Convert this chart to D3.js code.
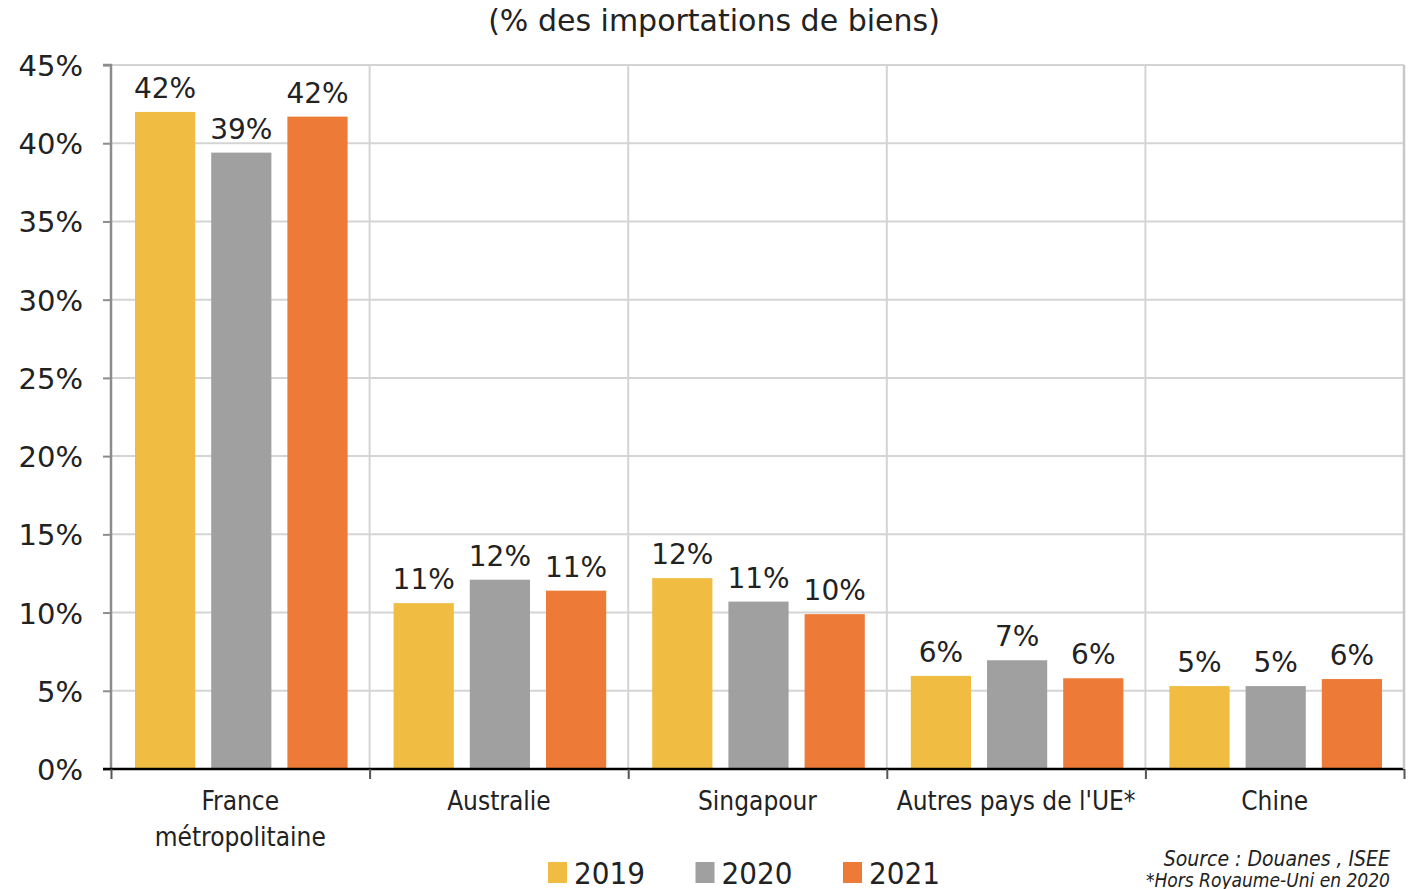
<!DOCTYPE html>
<html lang="fr">
  <head>
    <meta charset="utf-8">
    <title>Importations de biens par origine</title>
    <script src="https://d3js.org/d3.v7.js"></script>
    <style>
    body {margin: 0; background: white;}
    svg {display: block;}
    .tick-label, .val-label {font-family: "DejaVu Sans", Verdana, sans-serif; fill: #222;}
    .cat-label, .legend-label {font-family: "DejaVu Sans Condensed", "DejaVu Sans", sans-serif; fill: #222;}
    .source {font-family: "DejaVu Sans Condensed", "DejaVu Sans", sans-serif; font-style: italic; fill: #222;}
    </style>
  </head>
  <body>
  <script>

  // data
  var categories = ["France métropolitaine", "Australie", "Singapour", "Autres pays de l'UE*", "Chine"];
  var years = ["2019", "2020", "2021"];
  var values2019 = [42.0, 10.6, 12.2, 5.95, 5.3];
  var values2020 = [39.4, 12.1, 10.7, 6.95, 5.3];
  var values2021 = [41.7, 11.4, 9.9, 5.8, 5.75];
  var labels2019 = ["42%", "11%", "12%", "6%", "5%"];
  var labels2020 = ["39%", "12%", "11%", "7%", "5%"];
  var labels2021 = ["42%", "11%", "10%", "6%", "6%"];
  var yTicks = [0, 5, 10, 15, 20, 25, 30, 35, 40, 45];
  var colors = ["#F0BC42", "#A0A0A0", "#EE7A38"];

  var w = 1411;
  var h = 889;
  var margin = {top: 65, right: 7, bottom: 120, left: 111};
  var innerWidth = w - margin.left - margin.right;
  var innerHeight = h - margin.top - margin.bottom;

  var series = [values2019, values2020, values2021];
  var seriesLabels = [labels2019, labels2020, labels2021];

  var rows = [];
  categories.forEach(function(c, i) {
    years.forEach(function(y, j) {
      rows.push({cat: c, year: y, idx: j, value: series[j][i], label: seriesLabels[j][i]});
    });
  });

  var svg = d3.select("body")
      .append("svg")
      .attr("width", w)
      .attr("height", h);

  var g = svg.append("g")
      .attr("transform", `translate(${margin.left}, ${margin.top})`);

  var xScale = d3.scaleBand()
      .domain(categories)
      .range([0, innerWidth]);

  var xInner = d3.scaleBand()
      .domain(years)
      .range([24, xScale.bandwidth() - 22])
      .paddingInner(0.21);

  var yScale = d3.scaleLinear()
      .domain([0, 45])
      .range([innerHeight, 0]);

  // horizontal grid
  g.selectAll(".hgrid")
     .data(yTicks.filter(d => d > 0))
     .join("line")
     .attr("class", "hgrid")
     .attr("x1", 0)
     .attr("x2", innerWidth)
     .attr("y1", d => yScale(d))
     .attr("y2", d => yScale(d))
     .attr("stroke", "#d4d4d4")
     .attr("stroke-width", 2);

  // vertical grid at category boundaries
  var bounds = categories.map(c => xScale(c)).concat([innerWidth]);
  g.selectAll(".vgrid")
     .data(bounds.slice(1))
     .join("line")
     .attr("class", "vgrid")
     .attr("x1", d => d)
     .attr("x2", d => d)
     .attr("y1", 0)
     .attr("y2", innerHeight)
     .attr("stroke", "#d4d4d4")
     .attr("stroke-width", 2);

  // bars
  g.selectAll(".bar")
     .data(rows)
     .join("rect")
     .attr("class", "bar")
     .attr("x", d => xScale(d.cat) + xInner(d.year))
     .attr("y", d => yScale(d.value))
     .attr("width", xInner.bandwidth())
     .attr("height", d => innerHeight - yScale(d.value))
     .attr("fill", d => colors[d.idx]);

  // value labels
  g.selectAll(".val-label")
     .data(rows)
     .join("text")
     .attr("class", "val-label")
     .attr("x", d => xScale(d.cat) + xInner(d.year) + xInner.bandwidth() / 2)
     .attr("y", d => yScale(d.value) - 14)
     .attr("text-anchor", "middle")
     .style("font-size", "28px")
     .text(d => d.label);

  // left axis
  var yAxis = d3.axisLeft(yScale)
      .tickValues(yTicks)
      .tickSize(8)
      .tickFormat(d => d + "%");
  var ya = g.append("g").call(yAxis);
  ya.select(".domain").attr("stroke", "#8c8c8c").attr("stroke-width", 2.5)
    .attr("d", `M-8,0H0V${innerHeight}`);
  ya.selectAll(".tick line").attr("stroke", "#8c8c8c").attr("stroke-width", 2);
  ya.selectAll(".tick text")
    .attr("class", "tick-label")
    .attr("x", -28)
    .attr("dy", "0.36em")
    .style("font-size", "29px");

  // bottom axis
  var xAxis = d3.axisBottom(d3.scaleLinear().domain([0, innerWidth]).range([0, innerWidth]))
      .tickValues(bounds)
      .tickSize(10)
      .tickFormat("");
  var xa = g.append("g")
      .attr("transform", `translate(0, ${innerHeight})`)
      .call(xAxis);
  xa.select(".domain").attr("stroke", "#000").attr("stroke-width", 2.5)
    .attr("d", `M-8,0H${innerWidth}`);
  xa.selectAll(".tick line").attr("stroke", "#555").attr("stroke-width", 2);

  // right border
  g.append("line")
   .attr("x1", innerWidth).attr("x2", innerWidth)
   .attr("y1", 0).attr("y2", innerHeight)
   .attr("stroke", "#c8c8c8").attr("stroke-width", 2.5);

  // category labels
  var catText = g.selectAll(".cat-label")
     .data(categories)
     .join("text")
     .attr("class", "cat-label")
     .attr("x", d => xScale(d) + xScale.bandwidth() / 2)
     .attr("y", innerHeight + 41)
     .attr("text-anchor", "middle")
     .style("font-size", "26px");
  catText.each(function(d) {
    var parts = d === "France métropolitaine" ? ["France", "métropolitaine"] : [d];
    d3.select(this).selectAll("tspan")
      .data(parts)
      .join("tspan")
      .attr("x", xScale(d) + xScale.bandwidth() / 2)
      .attr("dy", (p, i) => i === 0 ? 0 : 36)
      .text(p => p);
  });

  // title
  svg.append("text")
     .attr("x", 714)
     .attr("y", 31)
     .attr("text-anchor", "middle")
     .attr("class", "tick-label")
     .style("font-size", "30px")
     .text("(% des importations de biens)");

  // legend
  var legend = svg.selectAll(".legend")
     .data(years)
     .join("g")
     .attr("class", "legend")
     .attr("transform", (d, i) => `translate(${548 + i * 147.5}, 862)`);
  legend.append("rect")
     .attr("width", 19)
     .attr("height", 21)
     .attr("fill", (d, i) => colors[i]);
  legend.append("text")
     .attr("class", "legend-label")
     .attr("x", 26)
     .attr("y", 22)
     .style("font-size", "31px")
     .text(d => d);

  // source
  svg.append("text")
     .attr("class", "source")
     .attr("x", 1390)
     .attr("y", 866)
     .attr("text-anchor", "end")
     .style("font-size", "21px")
     .text("Source : Douanes , ISEE");
  svg.append("text")
     .attr("class", "source")
     .attr("x", 1390)
     .attr("y", 887)
     .attr("text-anchor", "end")
     .style("font-size", "19px")
     .text("*Hors Royaume-Uni en 2020");

  </script>
  </body>
</html>
